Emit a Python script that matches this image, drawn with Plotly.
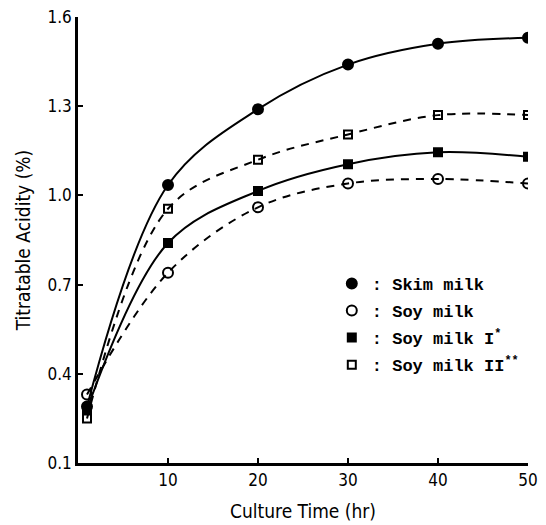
import plotly.graph_objects as go

# ---- data ----
time_hr = [1, 10, 20, 30, 40, 50]
skim_milk = [0.29, 1.035, 1.29, 1.44, 1.51, 1.53]
soy_milk = [0.33, 0.74, 0.96, 1.04, 1.055, 1.04]
soy_milk_1 = [0.28, 0.84, 1.015, 1.105, 1.145, 1.13]
soy_milk_2 = [0.25, 0.955, 1.12, 1.205, 1.27, 1.27]

x_ticks = [10, 20, 30, 40, 50]
y_ticks = [0.1, 0.4, 0.7, 1.0, 1.3, 1.6]
y_tick_labels = ["0.1", "0.4", "0.7", "1.0", "1.3", "1.6"]

series = [
    (": Skim milk", skim_milk, "circle", "solid", 10),
    (": Soy milk", soy_milk, "circle-open", "8px,7px", 10),
    (": Soy milk I<sup>*</sup>", soy_milk_1, "square", "solid", 8),
    (": Soy milk II<sup>**</sup>", soy_milk_2, "square-open", "8px,7px", 8),
]

fig = go.Figure()
for i, (name, vals, sym, dash, ms) in enumerate(series):
    fig.add_trace(go.Scatter(
        x=time_hr, y=vals, mode="lines+markers",
        line=dict(color="black", width=2, dash=dash, shape="spline", smoothing=1.0),
        marker=dict(symbol=sym, size=ms, color="black",
                    line=dict(color="black", width=2)),
        showlegend=False,
    ))
    fig.add_trace(go.Scatter(
        x=[None], y=[None], mode="markers", name=name,
        marker=dict(symbol=sym, size=ms, color="black",
                    line=dict(color="black", width=2)),
        legendgroup=f"g{i}", showlegend=True,
    ))

tick_font = dict(family="DejaVu Sans Condensed, Liberation Sans Narrow, DejaVu Sans, sans-serif",
                 size=17, color="black")

# page body adds an 8px offset; figure sized so the plot area lands where the reference has it
fig.update_layout(
    width=538, height=517,
    margin=dict(l=70, r=18, t=9, b=62),
    paper_bgcolor="white", plot_bgcolor="white",
    xaxis=dict(
        range=[0, 50], tickvals=x_ticks, ticktext=[str(v) for v in x_ticks],
        showgrid=False, zeroline=False, showline=True, linecolor="black", linewidth=2.5,
        ticks="inside", ticklen=5, tickwidth=1.5, tickcolor="black",
        tickfont=tick_font, automargin=False, ticklabeloverflow="allow",
        title=dict(text="Culture Time (hr)", font=dict(family=tick_font["family"], size=19, color="black"),
                   standoff=16),
    ),
    yaxis=dict(
        range=[0.1, 1.6], tickvals=y_ticks, ticktext=y_tick_labels,
        showgrid=False, zeroline=False, showline=True, linecolor="black", linewidth=2.5,
        ticks="inside", ticklen=5, tickwidth=1.5, tickcolor="black",
        tickfont=tick_font, automargin=False, ticklabeloverflow="allow",
        title=dict(text="Titratable Acidity (%)", font=dict(family=tick_font["family"], size=19, color="black"),
                   standoff=12),
    ),
    legend=dict(
        x=0.564, y=0.442, xanchor="left", yanchor="top",
        font=dict(family="Liberation Mono, DejaVu Sans Mono, monospace", size=17, color="black",
                  weight="bold"),
        bgcolor="rgba(0,0,0,0)", traceorder="grouped", tracegroupgap=2,
        itemwidth=30,
    ),
)

fig.write_html("out.html")
